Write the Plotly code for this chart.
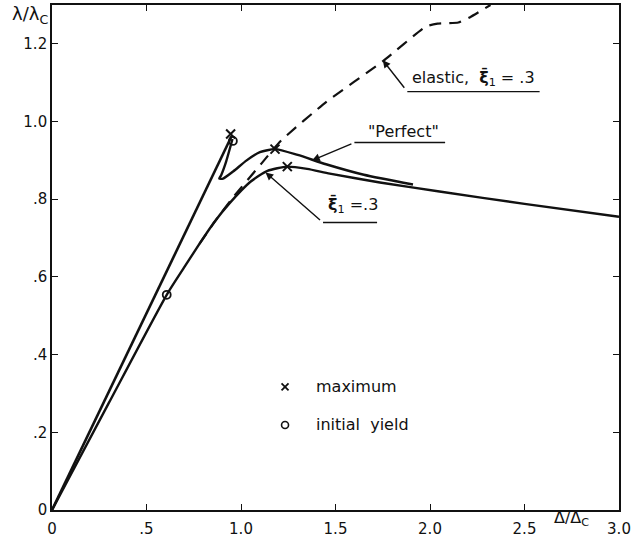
import plotly.graph_objects as go

# ---- data ----
perfect_rise_x = [0.0, 0.95]
perfect_rise_y = [0.0, 0.962]
perfect_post_x = [0.955, 0.92, 0.895, 0.885, 0.905, 0.96, 1.03, 1.10, 1.18, 1.30, 1.45, 1.65, 1.91]
perfect_post_y = [0.955, 0.895, 0.862, 0.853, 0.853, 0.872, 0.900, 0.921, 0.929, 0.914, 0.890, 0.863, 0.838]

imperf_x = [0.0, 0.30, 0.607, 0.70, 0.78, 0.86, 0.94, 1.05, 1.14, 1.245, 1.35, 1.47, 1.735, 2.05, 2.50, 3.00]
imperf_y = [0.0, 0.275, 0.554, 0.625, 0.685, 0.742, 0.790, 0.845, 0.873, 0.884, 0.878, 0.866, 0.843, 0.820, 0.788, 0.755]

elastic_x = [0.78, 0.87, 0.95, 1.11, 1.21, 1.45, 1.75, 1.98, 2.04, 2.15, 2.21, 2.32]
elastic_y = [0.685, 0.748, 0.800, 0.893, 0.950, 1.050, 1.155, 1.245, 1.252, 1.255, 1.268, 1.300]

max_x = [0.945, 1.18, 1.245]
max_y = [0.968, 0.929, 0.884]
yield_x = [0.957, 0.607]
yield_y = [0.950, 0.554]

x_tickvals = [0, 0.5, 1.0, 1.5, 2.0, 2.5, 3.0]
x_ticktext = ["0", ".5", "1.0", "1.5", "2.0", "2.5", "3.0"]
y_tickvals = [0, 0.2, 0.4, 0.6, 0.8, 1.0, 1.2]
y_ticktext = ["0", ".2", ".4", ".6", ".8", "1.0", "1.2"]

FONT = "DejaVu Sans"
INK = "#111111"
FS = 15
FSL = 16

fig = go.Figure()

fig.add_trace(go.Scatter(x=perfect_rise_x, y=perfect_rise_y, mode="lines",
                         line=dict(color=INK, width=2.6)))
fig.add_trace(go.Scatter(x=perfect_post_x, y=perfect_post_y, mode="lines",
                         line=dict(color=INK, width=2.4, shape="spline", smoothing=0.6)))
fig.add_trace(go.Scatter(x=imperf_x, y=imperf_y, mode="lines",
                         line=dict(color=INK, width=2.4, shape="spline", smoothing=0.6)))
fig.add_trace(go.Scatter(x=elastic_x, y=elastic_y, mode="lines",
                         line=dict(color=INK, width=2.2, dash="12px,8px", shape="spline", smoothing=0.5)))

fig.add_trace(go.Scatter(x=max_x, y=max_y, mode="markers",
                         marker=dict(symbol="x-thin", size=9, line=dict(color=INK, width=2))))
fig.add_trace(go.Scatter(x=yield_x, y=yield_y, mode="markers",
                         marker=dict(symbol="circle-open", size=8, color=INK, line=dict(color=INK, width=1.8))))

# in-plot key
fig.add_trace(go.Scatter(x=[1.233], y=[0.317], mode="markers",
                         marker=dict(symbol="x-thin", size=7, line=dict(color=INK, width=1.8))))
fig.add_trace(go.Scatter(x=[1.233], y=[0.219], mode="markers",
                         marker=dict(symbol="circle-open", size=7, color=INK, line=dict(color=INK, width=1.6))))

annotations = []
shapes = []

def label(text, x, y, xanchor="left"):
    annotations.append(dict(x=x, y=y, xref="x", yref="y", text=text, showarrow=False,
                            xanchor=xanchor, yanchor="middle",
                            font=dict(family=FONT, size=FSL, color=INK)))

def leader(px, py, bx, by, ex):
    # arrow from bend (bx,by) to curve point (px,py); underline from bx to ex
    annotations.append(dict(x=px, y=py, ax=bx, ay=by, xref="x", yref="y", axref="x", ayref="y",
                            text=" ", showarrow=True, arrowhead=2, arrowsize=1.1, arrowwidth=1.4,
                            arrowcolor=INK, standoff=0))
    shapes.append(dict(type="line", xref="x", yref="y", x0=bx, y0=by, x1=ex, y1=by,
                       line=dict(color=INK, width=1.4)))

label("maximum", 1.385, 0.317)
label("initial  yield", 1.385, 0.219)

leader(1.75, 1.158, 1.88, 1.077, 2.58)
label("elastic,  <b>ξ̄</b><sub>1</sub> = .3", 1.895, 1.112)

leader(1.376, 0.900, 1.60, 0.946, 2.08)
label("\"Perfect\"", 1.86, 0.975, xanchor="center")

leader(1.13, 0.869, 1.434, 0.740, 1.72)
label("<b>ξ̄</b><sub>1</sub> =.3", 1.45, 0.785)

# axis titles
annotations.append(dict(x=2.75, y=0, xref="x", yref="paper", yshift=-21, text="Δ/Δ<sub>C</sub>",
                        showarrow=False, font=dict(family=FONT, size=16, color=INK)))
annotations.append(dict(x=0, y=1.0, xref="paper", yref="paper", xanchor="right", yanchor="top",
                        xshift=-2, yshift=4, text="λ/λ<sub>C</sub>", showarrow=False,
                        font=dict(family=FONT, size=18, color=INK)))

axis_common = dict(showgrid=False, zeroline=False, showline=True, linecolor=INK, linewidth=1.6,
                   mirror="allticks", ticks="inside", ticklen=6, tickwidth=1.4, tickcolor=INK,
                   automargin=False,
                   tickfont=dict(family=FONT, size=FS, color=INK))

fig.update_layout(
    width=632, height=541,
    margin=dict(l=52, r=13, t=5, b=31, autoexpand=False),
    paper_bgcolor="white", plot_bgcolor="white",
    showlegend=False,
    xaxis=dict(range=[0, 3.0], tickvals=x_tickvals, ticktext=x_ticktext, ticklabelstandoff=4, **axis_common),
    yaxis=dict(range=[0, 1.30], tickvals=y_tickvals, ticktext=y_ticktext, **axis_common),
    annotations=annotations,
    shapes=shapes,
)

fig.write_html("out.html",
               config={"displayModeBar": False},
               post_script="document.body.style.margin='0';document.body.style.padding='0';")
